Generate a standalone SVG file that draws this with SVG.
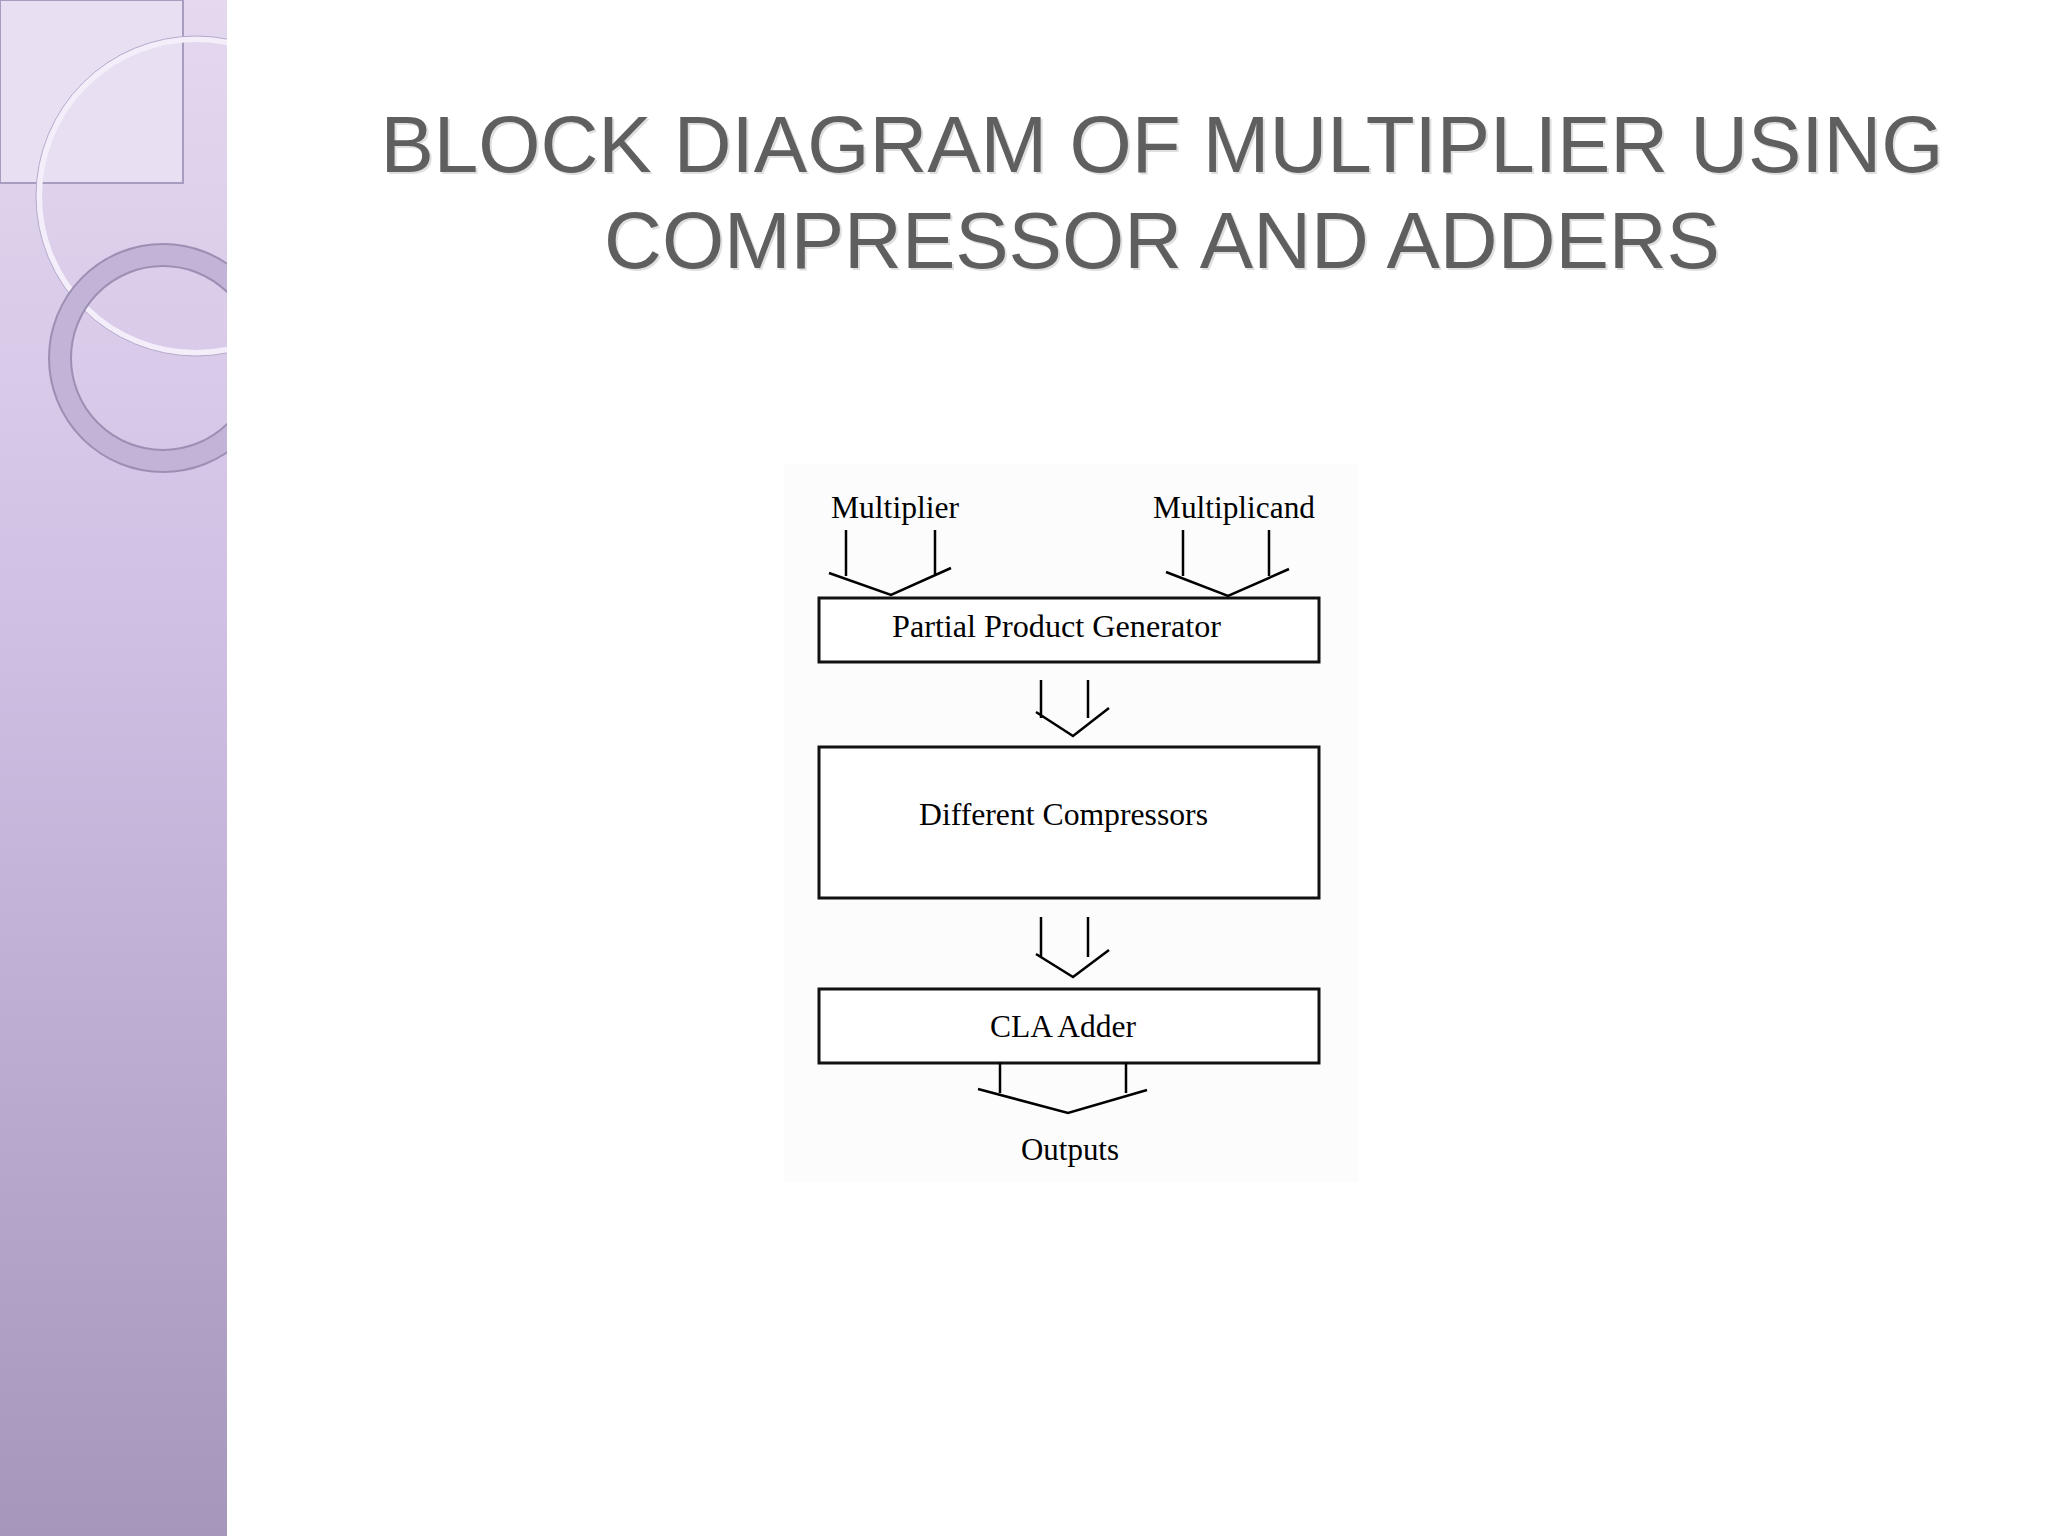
<svg xmlns="http://www.w3.org/2000/svg" width="2048" height="1536" viewBox="0 0 2048 1536">
<defs>
<linearGradient id="side" x1="0" y1="0" x2="0" y2="1">
<stop offset="0" stop-color="#e4d9ef"/>
<stop offset="0.4" stop-color="#d0c0e4"/>
<stop offset="1" stop-color="#a596bb"/>
</linearGradient>
<clipPath id="sc"><rect x="0" y="0" width="227" height="1536"/></clipPath>
<style>
.t{font-family:"Liberation Serif",serif;font-size:31px;fill:#000}
.ttl{font-family:"Liberation Sans",Arial,sans-serif;font-size:80px;fill:#5f5f5f;text-anchor:middle}
.ln{stroke:#000;stroke-width:2.5;fill:none}
.bx{fill:#fff;stroke:#111;stroke-width:3}
</style>
</defs>
<rect width="2048" height="1536" fill="#fff"/>
<g id="sidebar" clip-path="url(#sc)">
<rect width="227" height="1536" fill="url(#side)"/>
<rect x="0" y="0" width="183" height="183" fill="#e8e0f2" stroke="#a99bbd" stroke-width="2"/>
<circle cx="196" cy="196" r="157" fill="none" stroke="#f3eef9" stroke-width="6"/>
<circle cx="196" cy="196" r="160" fill="none" stroke="#b7a9cc" stroke-width="1"/>
<circle cx="163" cy="358" r="103" fill="none" stroke="#c2b4d6" stroke-width="22"/>
<circle cx="163" cy="358" r="114" fill="none" stroke="#9d8fb3" stroke-width="2"/>
<circle cx="163" cy="358" r="92" fill="none" stroke="#9d8fb3" stroke-width="2"/>
</g>
<g id="title">
<text class="ttl" x="1162" y="172" fill-opacity="0.2" transform="translate(2,2)">BLOCK DIAGRAM OF MULTIPLIER USING</text>
<text class="ttl" x="1162" y="172">BLOCK DIAGRAM OF MULTIPLIER USING</text>
<text class="ttl" x="1162" y="268" fill-opacity="0.2" transform="translate(2,2)">COMPRESSOR AND ADDERS</text>
<text class="ttl" x="1162" y="268">COMPRESSOR AND ADDERS</text>
</g>
<rect x="784" y="464" width="574" height="718" fill="#fcfcfd"/>
<g id="inputs">
<text class="t" x="831" y="518" textLength="128" lengthAdjust="spacingAndGlyphs">Multiplier</text>
<text class="t" x="1153" y="518" textLength="162" lengthAdjust="spacingAndGlyphs">Multiplicand</text>
</g>
<g id="ppg">
<rect class="bx" x="819" y="598" width="500" height="64"/>
<text class="t" x="892" y="637" textLength="329" lengthAdjust="spacingAndGlyphs">Partial Product Generator</text>
</g>
<g id="dc">
<rect class="bx" x="819" y="747" width="500" height="151"/>
<text class="t" x="919" y="825" textLength="289" lengthAdjust="spacingAndGlyphs">Different Compressors</text>
</g>
<g id="cla">
<rect class="bx" x="819" y="989" width="500" height="74"/>
<text class="t" x="990" y="1037" textLength="146" lengthAdjust="spacingAndGlyphs">CLA Adder</text>
</g>
<g id="out">
<text class="t" x="1021" y="1160" textLength="98" lengthAdjust="spacingAndGlyphs">Outputs</text>
</g>
<g id="connectors">
<path class="ln" d="M846 530V576M935 530V576M829 573L891 595L951 568"/>
<path class="ln" d="M1183 530V576M1269 530V576M1166 572L1228 596L1289 569"/>
<path class="ln" d="M1041 680V718M1088 680V718M1036 712L1073 736L1109 708"/>
<path class="ln" d="M1041 917V957M1088 917V957M1036 954L1073 977L1109 950"/>
<path class="ln" d="M1000 1063V1093M1126 1063V1093M978 1089L1068 1113L1147 1090"/>
</g>
</svg>
